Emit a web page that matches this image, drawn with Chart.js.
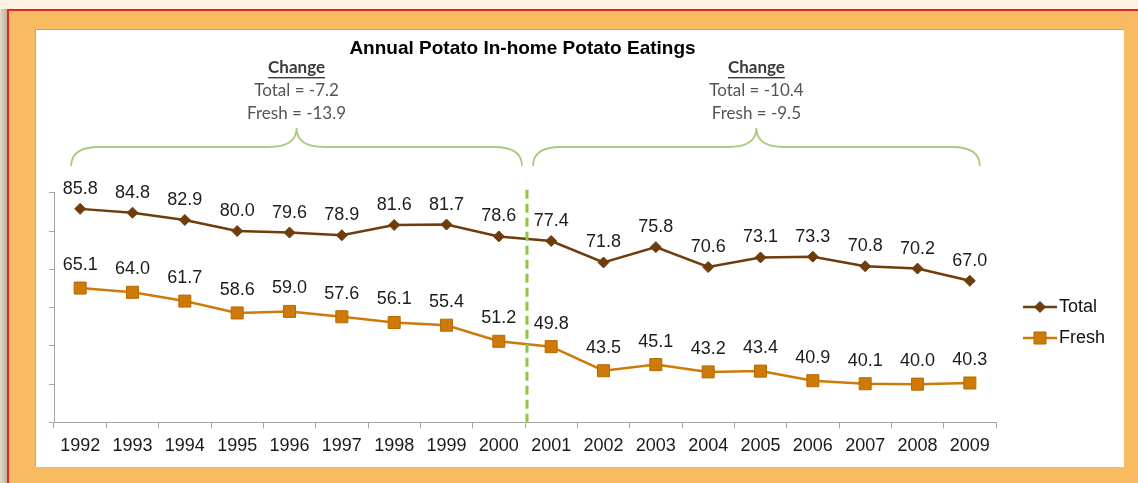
<!DOCTYPE html>
<html>
<head>
<meta charset="utf-8">
<title>Annual Potato In-home Potato Eatings</title>
<script src="https://cdn.jsdelivr.net/npm/chart.js@4.4.1/dist/chart.umd.min.js"></script>
<style>
  html, body { margin: 0; padding: 0; }
  body {
    width: 1138px; height: 483px; overflow: hidden; position: relative;
    background: #fdf1df;
  }
  #shade {
    position: absolute; left: 0; top: 9px; width: 7px; bottom: 0;
    background: linear-gradient(to right, #e4d9c8, #bfb09a);
  }
  #frame {
    position: absolute; left: 7px; top: 9px; right: 0; bottom: 0;
    background: #f8bb62;
    border-top: 2px solid #e2262b; border-left: 2px solid #e2262b;
  }
  #panel {
    position: absolute; left: 36px; top: 30px; width: 1088px; height: 437px;
    background: #fff;
    box-shadow: -1px -1px 0 #c9a46c;
  }
  canvas { display: block; }
</style>
</head>
<body>
<div id="shade"></div>
<div id="frame"></div>
<div id="panel"><canvas id="potatoChart" width="1088" height="437"></canvas></div>

<script>
const years = ['1992', '1993', '1994', '1995', '1996', '1997', '1998', '1999', '2000',
               '2001', '2002', '2003', '2004', '2005', '2006', '2007', '2008', '2009'];
const totalEatings = [85.8, 84.8, 82.9, 80.0, 79.6, 78.9, 81.6, 81.7, 78.6,
                      77.4, 71.8, 75.8, 70.6, 73.1, 73.3, 70.8, 70.2, 67.0];
const freshEatings = [65.1, 64.0, 61.7, 58.6, 59.0, 57.6, 56.1, 55.4, 51.2,
                      49.8, 43.5, 45.1, 43.2, 43.4, 40.9, 40.1, 40.0, 40.3];
const yTicks = [30, 40, 50, 60, 70, 80, 90];

// index of the last year before the split
const splitAfter = 8;
const changeNotes = [
    ['Total = -7.2', 'Fresh = -13.9'],
    ['Total = -10.4', 'Fresh = -9.5']
];

const TOTAL_COLOR = '#6e3d0b';
const FRESH_COLOR = '#cd7a08';
const BRACE_COLOR = '#aacb82';
const ARIAL = '"Liberation Sans", Arial, sans-serif';
const NOTE_FONT = 'Lato, "Open Sans", sans-serif';

function drawBrace(ctx, x0, x1, yTop, yMid, yEnd) {
    const xc = (x0 + x1) / 2;
    const r = 28;
    ctx.beginPath();
    ctx.moveTo(x0, yEnd);
    ctx.quadraticCurveTo(x0, yMid, x0 + r, yMid);
    ctx.lineTo(xc - r, yMid);
    ctx.quadraticCurveTo(xc, yMid, xc, yTop);
    ctx.quadraticCurveTo(xc, yMid, xc + r, yMid);
    ctx.lineTo(x1 - r, yMid);
    ctx.quadraticCurveTo(x1, yMid, x1, yEnd);
    ctx.stroke();
}

const extras = {
    id: 'extras',
    afterDatasetsDraw(chart) {
        const { ctx, chartArea, scales: { x } } = chart;
        const splitX = (x.getPixelForValue(splitAfter) + x.getPixelForValue(splitAfter + 1)) / 2;

        // dashed divider between the two periods
        ctx.save();
        ctx.strokeStyle = '#8dc641';
        ctx.lineWidth = 3;
        ctx.setLineDash([9, 5]);
        ctx.beginPath();
        ctx.moveTo(splitX + 2, chartArea.top - 3);
        ctx.lineTo(splitX + 2, chartArea.bottom);
        ctx.stroke();
        ctx.restore();

        // value labels above every point
        ctx.save();
        ctx.font = '18px ' + ARIAL;
        ctx.fillStyle = '#1c1c1c';
        ctx.textAlign = 'center';
        ctx.textBaseline = 'middle';
        chart.data.datasets.forEach((ds, i) => {
            const offset = i === 0 ? 20 : 23;
            chart.getDatasetMeta(i).data.forEach((pt, j) => {
                ctx.fillText(ds.data[j].toFixed(1), pt.x, pt.y - offset);
            });
        });
        ctx.restore();

        // braces with change notes
        const spans = [
            [x.getPixelForValue(0) - 9, splitX - 3],
            [splitX + 8, x.getPixelForValue(years.length - 1) + 10]
        ];
        ctx.save();
        ctx.strokeStyle = BRACE_COLOR;
        ctx.lineWidth = 1.8;
        spans.forEach(([a, b], k) => {
            drawBrace(ctx, a, b, 98, 117, 136);
            const cx = (a + b) / 2;
            ctx.textAlign = 'center';
            ctx.textBaseline = 'middle';
            ctx.fillStyle = '#3a3a3a';
            ctx.font = 'bold 17px ' + NOTE_FONT;
            ctx.fillText('Change', cx, 38);
            const w = ctx.measureText('Change').width;
            ctx.fillRect(cx - w / 2, 47, w, 1.4);
            ctx.fillStyle = '#555';
            ctx.font = '17px ' + NOTE_FONT;
            ctx.fillText(changeNotes[k][0], cx, 61);
            ctx.fillText(changeNotes[k][1], cx, 84);
        });
        ctx.restore();

        // legend on the right
        ctx.save();
        ctx.font = '18px ' + ARIAL;
        ctx.textBaseline = 'middle';
        chart.data.datasets.forEach((ds, i) => {
            const ly = 277 + i * 31;
            const lx = 987;
            ctx.strokeStyle = ds.borderColor;
            ctx.lineWidth = 2.5;
            ctx.beginPath();
            ctx.moveTo(lx, ly);
            ctx.lineTo(lx + 34, ly);
            ctx.stroke();
            ctx.fillStyle = ds.pointBackgroundColor;
            ctx.strokeStyle = ds.pointBorderColor;
            ctx.lineWidth = 1;
            Chart.helpers.drawPoint(ctx, {
                pointStyle: ds.pointStyle,
                radius: ds.pointRadius,
                borderWidth: 1
            }, lx + 17, ly);
            ctx.fillStyle = '#111';
            ctx.fillText(ds.label, lx + 36, ly);
        });
        ctx.restore();
    }
};

new Chart(document.getElementById('potatoChart'), {
    type: 'line',
    data: {
        labels: years,
        datasets: [
            {
                label: 'Total',
                data: totalEatings,
                borderColor: TOTAL_COLOR,
                borderWidth: 2.5,
                pointStyle: 'rectRot',
                pointRadius: 5.5,
                pointBackgroundColor: TOTAL_COLOR,
                pointBorderColor: TOTAL_COLOR,
                pointBorderWidth: 1,
                tension: 0
            },
            {
                label: 'Fresh',
                data: freshEatings,
                borderColor: FRESH_COLOR,
                borderWidth: 2.5,
                pointStyle: 'rect',
                pointRadius: 8.5,
                pointBackgroundColor: FRESH_COLOR,
                pointBorderColor: '#b86a00',
                pointBorderWidth: 1,
                tension: 0
            }
        ]
    },
    options: {
        responsive: false,
        animation: false,
        devicePixelRatio: 1,
        layout: { padding: { left: 13, right: 128, top: 0, bottom: 3 } },
        plugins: {
            legend: { display: false },
            tooltip: { enabled: false },
            title: {
                display: true,
                text: 'Annual Potato In-home Potato Eatings',
                color: '#000',
                font: { family: ARIAL, size: 19, weight: 'bold' },
                padding: { top: 7, bottom: 133 }
            }
        },
        scales: {
            x: {
                offset: true,
                grid: { offset: true, drawOnChartArea: false, tickLength: 6, color: '#a6a6a6' },
                border: { color: '#a6a6a6' },
                ticks: {
                    color: '#1a1a1a',
                    padding: 7,
                    maxRotation: 0,
                    font: { family: ARIAL, size: 18 }
                }
            },
            y: {
                min: yTicks[0],
                max: yTicks[yTicks.length - 1],
                afterBuildTicks(scale) {
                    scale.ticks = yTicks.map(v => ({ value: v }));
                },
                grid: { drawOnChartArea: false, tickLength: 5, color: '#a6a6a6' },
                border: { color: '#a6a6a6' },
                ticks: { display: false }
            }
        }
    },
    plugins: [extras]
});
</script>
</body>
</html>
